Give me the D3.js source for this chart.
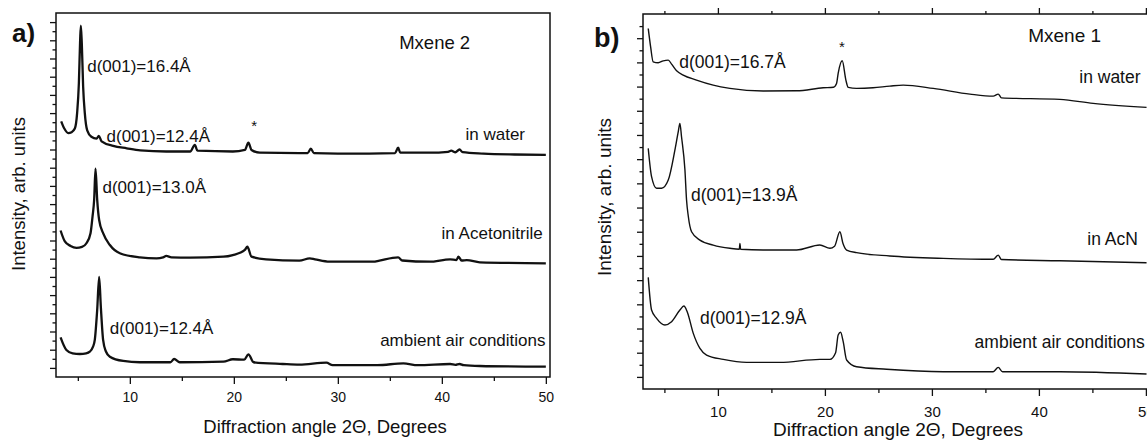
<!DOCTYPE html>
<html>
<head>
<meta charset="utf-8">
<script src="https://cdn.jsdelivr.net/npm/d3@7"></script>
<style>
  body { margin: 0; background: #fff; }
  svg { display: block; }
  text { font-family: "Liberation Sans", Arial, sans-serif; fill: #111; }
</style>
</head>
<body>
<svg width="1147" height="440"></svg>
<script>
// ---- panel a) Mxene 2 : [2theta, intensity (arb.)] ----
const waterA = [[3.4,28.1],[3.7,27.3],[4.07,26.8],[4.4,26.9],[4.71,27.3],[4.93,29.0],[5.1,32.3],[5.22,37.0],[5.29,38.6],[5.38,36.7],[5.51,31.9],[5.67,29.0],[5.9,27.1],[6.3,26.4],[6.8,26.2],[7.02,26.5],[7.28,25.9],[8.4,25.4],[9.7,25.13],[11.0,24.9],[13.5,24.78],[15.8,24.78],[16.25,25.5],[16.5,24.87],[19.9,24.78],[21.06,24.95],[21.4,25.75],[21.7,24.95],[22.5,24.65],[26.3,24.6],[27.1,24.6],[27.4,25.1],[27.7,24.6],[30,24.55],[33,24.55],[35.5,24.6],[35.8,25.2],[36.0,24.65],[38.8,24.65],[40.6,24.75],[40.9,24.87],[41.3,24.7],[41.7,25.0],[42.0,24.7],[44,24.55],[47,24.45],[50,24.4]];
const acnA = [[3.34,16.1],[3.75,14.9],[4.3,14.4],[4.87,14.2],[5.4,14.3],[5.83,14.7],[6.22,15.8],[6.41,17.6],[6.57,19.5],[6.7,22.9],[6.86,19.5],[7.05,17.25],[7.43,15.8],[8.08,14.5],[9.04,13.6],[10.96,13.15],[12.57,13.04],[13.2,13.15],[13.5,13.3],[14.0,13.15],[15.8,13.12],[19.0,13.22],[19.9,13.4],[21.06,13.96],[21.3,14.32],[21.7,13.22],[23.1,12.93],[26.3,12.78],[27.3,13.04],[27.8,12.93],[29.2,12.67],[33.4,12.67],[34.0,12.8],[35.8,13.15],[36.2,12.8],[38.8,12.67],[40.8,12.93],[41.4,12.85],[41.6,13.22],[41.9,12.8],[42.4,12.85],[43.65,12.6],[50,12.49]];
const airA = [[3.34,4.36],[3.9,2.97],[4.5,2.6],[5.19,2.53],[5.8,2.6],[6.15,2.78],[6.45,3.3],[6.63,4.07],[6.86,7.36],[7.05,11.0],[7.21,7.73],[7.43,4.07],[7.7,2.8],[8.08,2.23],[9.36,1.76],[10.96,1.62],[13.9,1.62],[14.26,1.98],[14.8,1.62],[19.0,1.68],[19.9,1.95],[21.0,1.9],[21.4,2.49],[21.9,1.62],[24.7,1.43],[26.3,1.36],[28.9,1.57],[29.5,1.3],[33.8,1.3],[36.3,1.5],[37.7,1.3],[40.8,1.43],[41.3,1.33],[41.7,1.43],[42.1,1.3],[43.65,1.21],[50,1.13]];

// ---- panel b) Mxene 1 ----
const waterB = [[3.49,29.8],[3.71,28.3],[3.95,27.05],[4.42,26.97],[4.89,27.13],[5.36,27.19],[5.67,26.86],[6.14,26.31],[6.76,25.95],[8.0,25.54],[9.56,25.12],[11.12,24.85],[14.23,24.63],[17.35,24.65],[19.84,24.9],[20.8,24.95],[21.09,25.26],[21.24,26.1],[21.62,27.13],[21.96,25.54],[22.18,24.93],[22.96,24.85],[24.5,24.9],[26.07,25.04],[27.32,25.12],[30.13,24.85],[33.55,24.38],[35.73,24.21],[36.2,24.38],[36.5,24.07],[41.96,23.94],[45.07,23.61],[50.06,23.28]];
const acnB = [[3.49,19.89],[3.8,17.55],[4.27,16.59],[4.74,16.59],[5.36,17.27],[5.98,19.75],[6.3,21.3],[6.45,21.96],[6.6,20.85],[6.92,18.1],[7.07,15.62],[7.23,14.3],[7.54,13.0],[8.32,12.31],[9.56,11.9],[11.12,11.63],[12.0,11.55],[12.06,12.04],[12.12,11.55],[14.23,11.49],[17.35,11.49],[19.53,11.9],[20.47,11.63],[20.9,11.8],[21.4,13.0],[21.7,12.0],[22.03,11.49],[22.96,11.27],[26.07,11.0],[31.06,10.8],[35.73,10.72],[36.2,11.07],[36.5,10.7],[41.96,10.6],[50.06,10.44]];
const airB = [[3.49,9.23],[3.8,6.53],[4.27,5.84],[5.05,5.29],[5.67,5.56],[6.45,6.53],[6.82,6.86],[7.13,6.39],[7.7,4.6],[8.32,3.36],[8.94,2.81],[10.5,2.45],[12.68,2.2],[15.79,2.2],[19.53,2.45],[20.47,2.45],[21.0,3.0],[21.24,4.46],[21.47,4.69],[21.71,3.91],[22.03,2.4],[22.96,1.84],[25.77,1.63],[31.06,1.43],[35.73,1.43],[36.2,1.79],[36.6,1.43],[41.96,1.43],[50.06,1.24]];

const majorX = [10, 20, 30, 40, 50];
const minorX = [5, 15, 25, 35, 45];

// labels: [text, x, y, anchor]
const labelsA = [
  ["d(001)=16.4Å", 5.9, 34.2, "start"],
  ["d(001)=12.4Å", 7.76, 26.5, "start"],
  ["d(001)=13.0Å", 7.37, 20.9, "start"],
  ["d(001)=12.4Å", 8.08, 5.4, "start"],
  ["in water", 48.0, 26.7, "end"],
  ["in Acetonitrile", 49.7, 15.8, "end"],
  ["ambient air conditions", 49.97, 4.07, "end"]
];
const labelsB = [
  ["d(001)=16.7Å", 6.38, 27.05, "start"],
  ["d(001)=13.9Å", 7.48, 16.03, "start"],
  ["d(001)=12.9Å", 8.32, 5.84, "start"],
  ["in water", 49.5, 25.8, "end"],
  ["in AcN", 49.25, 12.45, "end"],
  ["ambient air conditions", 49.9, 3.9, "end"]
];

const svg = d3.select("svg");

function drawPanel(p) {
  const x = d3.scaleLinear().domain(p.xDomain).range(p.xRange);
  const y = d3.scaleLinear().domain(p.yDomain).range(p.yRange);
  const g = svg.append("g");
  const [x0, x1] = p.xRange, [yb, yt] = p.yRange;

  const line = d3.line().x(d => x(d[0])).y(d => y(d[1])).curve(d3.curveMonotoneX);
  g.append("g").selectAll("path")
    .data(p.series)
    .join("path")
      .attr("d", line)
      .attr("fill", "none")
      .attr("stroke", "#111")
      .attr("stroke-width", p.lw)
      .attr("stroke-linejoin", "round");

  // bottom axis
  const bx = g.append("g").attr("transform", `translate(0,${yb})`);
  bx.call(d3.axisBottom(x).tickValues(majorX).tickSize(7).tickPadding(p.tickPad).tickSizeOuter(0));
  bx.append("g").call(d3.axisBottom(x).tickValues(minorX).tickSize(4).tickFormat("").tickSizeOuter(0));
  bx.selectAll(".domain").remove();
  bx.selectAll("text").style("font-size", p.tickFont + "px").attr("fill", "#111");

  if (p.topTicks) {
    const tx = g.append("g").attr("transform", `translate(0,${yt})`);
    tx.call(d3.axisTop(x).tickValues(majorX).tickSize(6).tickFormat(""));
    tx.append("g").call(d3.axisTop(x).tickValues(minorX).tickSize(3).tickFormat(""));
    tx.selectAll(".domain").remove();
  }

  // left axis, unlabeled ticks
  const yTicks = d3.range(1, p.yDomain[1]);
  const ly = g.append("g").attr("transform", `translate(${x0},0)`);
  ly.call(d3.axisLeft(y).tickValues(yTicks.filter(d => d % 2 === 1)).tickSize(6).tickFormat(""));
  ly.append("g").call(d3.axisLeft(y).tickValues(yTicks.filter(d => d % 2 === 0)).tickSize(3.5).tickFormat(""));
  ly.selectAll(".domain").remove();
  g.selectAll(".tick line").attr("stroke", "#111").attr("stroke-width", 1.3);

  // frame
  const frame = p.rightFrame
    ? `M${x0},${yt}H${x1}V${yb}H${x0}Z`
    : `M${x1 + 5},${yt}H${x0}V${yb}H${x1 + 5}`;
  g.append("path").attr("d", frame).attr("fill", "none").attr("stroke", "#111").attr("stroke-width", 1.5);

  // annotations
  g.append("g").selectAll("text")
    .data(p.labels)
    .join("text")
      .attr("x", d => x(d[1]))
      .attr("y", d => y(d[2]))
      .attr("dy", "0.35em")
      .attr("text-anchor", d => d[3])
      .style("font-size", p.labelFont + "px")
      .text(d => d[0]);

  g.append("text")
    .attr("x", x(p.star[0])).attr("y", y(p.star[1]))
    .attr("text-anchor", "middle").style("font-size", "15px").text("*");

  g.append("text")
    .attr("x", x(p.title[1])).attr("y", y(p.title[2])).attr("dy", "0.35em")
    .style("font-size", p.titleFont + "px").text(p.title[0]);

  g.append("text")
    .attr("x", p.xTitle[0]).attr("y", p.xTitle[1])
    .attr("text-anchor", "middle").style("font-size", p.axisFont + "px")
    .text("Diffraction angle 2Θ, Degrees");

  g.append("text")
    .attr("transform", `translate(${p.yTitle[0]},${p.yTitle[1]}) rotate(-90)`)
    .attr("text-anchor", "middle").style("font-size", p.axisFont + "px")
    .text("Intensity, arb. units");

  g.append("text")
    .attr("x", p.tag[1]).attr("y", p.tag[2])
    .style("font-size", p.tag[3] + "px").style("font-weight", "bold")
    .text(p.tag[0]);
}

drawPanel({
  xDomain: [2.9, 50.4], xRange: [56, 550],
  yDomain: [0, 40], yRange: [377, 13],
  series: [waterA, acnA, airA], lw: 2.3,
  topTicks: false, rightFrame: true,
  tickFont: 14, tickPad: 8,
  labels: labelsA, labelFont: 17,
  star: [21.95, 27.0],
  title: ["Mxene 2", 35.9, 36.8], titleFont: 18.5,
  xTitle: [325, 433], yTitle: [25, 194], axisFont: 18.5,
  tag: ["a)", 12, 42, 26]
});

drawPanel({
  xDomain: [3, 50.5], xRange: [643, 1151.25],
  yDomain: [0, 31], yRange: [389, 14],
  series: [waterB, acnB, airB], lw: 1.4,
  topTicks: true, rightFrame: false,
  tickFont: 15, tickPad: 10,
  labels: labelsB, labelFont: 17.5,
  star: [21.6, 27.9],
  title: ["Mxene 1", 39.0, 29.2], titleFont: 19,
  xTitle: [898, 436], yTitle: [611, 197], axisFont: 19,
  tag: ["b)", 594, 46.7, 27]
});
</script>
</body>
</html>
